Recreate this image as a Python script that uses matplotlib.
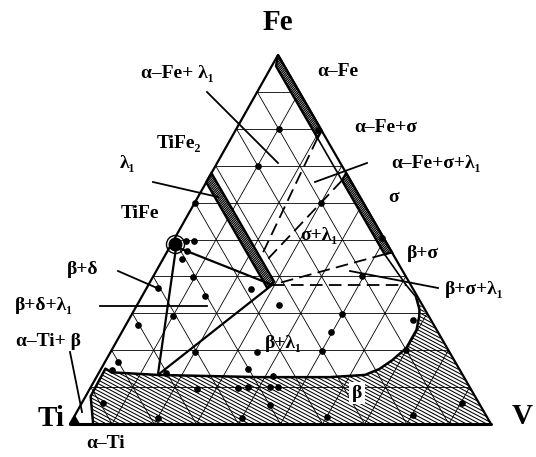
import matplotlib.pyplot as plt
import numpy as np
from matplotlib.patches import Polygon
from matplotlib.collections import LineCollection

plt.rcParams['font.family'] = ['Liberation Serif', 'DejaVu Serif']
plt.rcParams['font.weight'] = 'bold'

# corners of the Ti-V-Fe triangle on the page
TI_XY = (70, 424)
V_XY = (491, 424)
FE_XY = (278, 55)

# --- compositions, at.% (Fe, V); Ti is the remainder ---
alpha_ti = [(0, 0), (0, 2.2), (2.2, 0)]
beta_fe = [0, 7.5, 15, 14, 13.3, 12.7, 12.7, 13.3, 14.9, 17.3, 20.6, 25.5, 29, 31, 34.4, 0]
beta_v = [5.5, 1.2, 1.0, 3, 14.3, 38.7, 55.4, 63.5, 66.1, 68, 69.7, 69.7, 68.6, 67.7, 65.2, 100]
alpha_fe = [(100, 0), (79.5, 20.5), (77.5, 20.5), (97, 1)]
sigma = [(68, 32), (46.5, 53.5), (46, 52), (66, 32)]
lambda1 = [(68, 0), (38.5, 29.5), (37, 28.5), (65.5, 0)]

lam_tip = (37.7, 29.4)
lam_a = (45, 23)
lam_b = (43.5, 24.5)
delta = (48, 1.5)
beta_corner = (13.3, 14.3)
afe_end = (77.5, 20.5)
sigma_top = (66, 32)
sigma_low = (46, 52)
beta_sigma = (37.7, 61.2)
beta_edge = (34.4, 65.2)

# sample alloys
dots = [
    (49.6, 3), (49.6, 4.9), (46.9, 4.6), (44.7, 4.4), (39.8, 9.6), (36.9, 2.7),
    (34.7, 15), (36.6, 24.9), (32.2, 33.8), (29.3, 9.9), (19.5, 20.1), (19.5, 34.9),
    (13.8, 16.1), (14.9, 34.8), (29.8, 49.9), (24.9, 49.7), (19.8, 50), (40.1, 49.6),
    (28.2, 67.6), (20.1, 69.8), (26.8, 2.8), (16.8, 3), (14.6, 2.7), (5.7, 5),
    (1.6, 20.1), (13, 41.7), (9.5, 25.5), (9.8, 35), (10, 37.4), (10, 42.6),
    (10, 44.5), (5.1, 44.9), (1.6, 40.1), (1.9, 60), (5.7, 90.3), (2.4, 80.3),
    (79.7, 19.6), (50.4, 49.1), (60, 30), (80, 10), (60, 0), (70, 10),
]


def tern(fe, v):
    fe = np.asarray(fe, float)
    v = np.asarray(v, float)
    ti = 100 - fe - v
    x = (ti * TI_XY[0] + v * V_XY[0] + fe * FE_XY[0]) / 100
    y = (ti * TI_XY[1] + v * V_XY[1] + fe * FE_XY[1]) / 100
    return x, y


def tern_pts(pts):
    fe, v = zip(*pts)
    x, y = tern(fe, v)
    return np.column_stack([x, y])


def line(ax, pts, **kw):
    xy = tern_pts(pts)
    ax.plot(xy[:, 0], xy[:, 1], color='k', solid_capstyle='round', **kw)


def hatch(ax, verts, slope, step, lw=0.7, z=1):
    clip = Polygon(verts, closed=True, facecolor='none', edgecolor='none')
    ax.add_patch(clip)
    x0, y0 = verts.min(axis=0) - 5
    x1, y1 = verts.max(axis=0) + 5
    cs = [y - slope * x for x in (x0, x1) for y in (y0, y1)]
    segs = []
    for c in np.arange(min(cs), max(cs), step):
        segs.append([(x0, slope * x0 + c), (x1, slope * x1 + c)])
    lc = LineCollection(segs, colors='k', linewidths=lw, zorder=z)
    ax.add_collection(lc)
    lc.set_clip_path(clip)


fig = plt.figure(figsize=(5.36, 4.57), dpi=100)
ax = fig.add_axes([0, 0, 1, 1])
ax.set_xlim(0, 536)
ax.set_ylim(457, 0)
ax.axis('off')

# beta solid solution field
beta_xy = np.column_stack(tern(beta_fe, beta_v))
hatch(ax, beta_xy, 0.53, 3.6, lw=0.75)

# 10 % grid
for k in range(10, 100, 10):
    line(ax, [(k, 0), (k, 100 - k)], lw=0.6, zorder=2)
    line(ax, [(0, k), (100 - k, k)], lw=0.6, zorder=2)
    line(ax, [(100 - k, 0), (0, 100 - k)], lw=0.6, zorder=2)

# triangle outline
line(ax, [(0, 100), (100, 0), (0, 0)], lw=1.6, zorder=3)
line(ax, [(0, 0), (0, 100)], lw=2.2, zorder=3)

# beta boundary
line(ax, list(zip(beta_fe[:-1], beta_v[:-1])), lw=1.8, zorder=3)

# alpha-Ti corner
ati = Polygon(tern_pts(alpha_ti), closed=True, facecolor='k', edgecolor='k', zorder=3)
ax.add_patch(ati)

# narrow phase strips
for strip in (alpha_fe, sigma, lambda1):
    xy = tern_pts(strip)
    ax.add_patch(Polygon(xy, closed=True, facecolor='white', edgecolor='none', zorder=3))
    hatch(ax, xy, -1.0, 2.4, lw=0.9, z=3.5)
    ax.add_patch(Polygon(xy, closed=True, facecolor='none', edgecolor='k', lw=1.7, zorder=4))

# tie triangles, solid
line(ax, [delta, lam_tip], lw=1.6, zorder=4)
line(ax, [delta, beta_corner], lw=1.6, zorder=4)
line(ax, [lam_tip, beta_corner], lw=1.6, zorder=4)
line(ax, [afe_end, sigma_top], lw=1.2, zorder=4)
line(ax, [sigma_low, beta_sigma, beta_edge], lw=1.2, zorder=4)

# tie lines, dashed
for a, b in [(afe_end, lam_a), (sigma_top, lam_b), (sigma_low, lam_tip), (lam_tip, beta_sigma)]:
    xy = tern_pts([a, b])
    ax.plot(xy[:, 0], xy[:, 1], color='k', lw=1.3, ls=(0, (7, 3.5)), zorder=4)

# delta (TiFe) cluster
dx, dy = tern(*delta)
ax.plot(dx - 1, dy - 3, 'o', ms=9, mfc='k', mec='k', zorder=5)
ax.plot(dx - 1, dy - 3, 'o', ms=13, mfc='none', mec='k', mew=1.0, zorder=5)

dot_xy = tern_pts(dots)
ax.plot(dot_xy[:, 0], dot_xy[:, 1], 'o', ms=3.8, color='k', zorder=5)

# leader lines
leaders = [
    ((207, 92), (278, 163)),
    ((153, 182), (218, 197)),
    ((367, 163), (315, 182)),
    ((118, 271), (157, 288)),
    ((100, 306), (207, 306)),
    ((70, 352), (82, 412)),
    ((350, 271), (438, 288)),
]
for (x0, y0), (x1, y1) in leaders:
    ax.plot([x0, x1], [y0, y1], color='k', lw=1.3, zorder=4)

fs = 14
labels = [
    ('α–Fe+ λ₁', 177, 74),
    ('α–Fe', 338, 72),
    ('α–Fe+σ', 386, 127),
    ('TiFe₂', 179, 144),
    ('α–Fe+σ+λ₁', 436, 164),
    ('λ₁', 127, 163),
    ('σ', 394, 197),
    ('TiFe', 140, 213),
    ('σ+λ₁', 319, 236),
    ('β+σ', 423, 253),
    ('β+δ', 83, 270),
    ('β+σ+λ₁', 474, 289),
    ('β+δ+λ₁', 44, 305),
    ('α–Ti+ β', 48, 341),
    ('β+λ₁', 283, 343),
    ('α–Ti', 106, 444),
]
for s, x, y in labels:
    ax.text(x, y, s, fontsize=fs, fontweight='bold', ha='center', va='center', zorder=6)

ax.text(357, 393, 'β', fontsize=fs, fontweight='bold', ha='center', va='center', zorder=6,
        bbox=dict(facecolor='white', edgecolor='none', pad=2))

for s, x, y in [('Fe', 278, 23), ('Ti', 51, 418), ('V', 522, 417)]:
    ax.text(x, y, s, fontsize=21, fontweight='bold', ha='center', va='center', zorder=6)

fig.savefig('out.png', dpi=100)
